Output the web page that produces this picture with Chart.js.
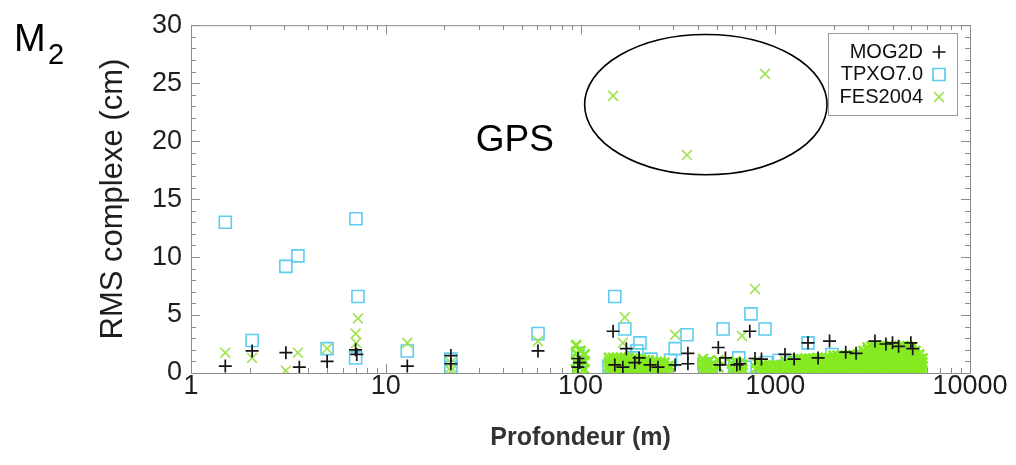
<!DOCTYPE html>
<html><head><meta charset="utf-8">
<script src="https://cdn.jsdelivr.net/npm/chart.js@4.4.1/dist/chart.umd.min.js"></script>
<style>html,body{margin:0;padding:0;background:#fff;}</style>
</head><body>
<canvas id="c" width="1016" height="465"></canvas>
<script>
// ---- data (x = depth in m, y = complex RMS in cm) ----
const seriesNames = ['MOG2D', 'TPXO7.0', 'FES2004'];
const xTickLabels = [1, 10, 100, 1000, 10000];
const yTickLabels = [0, 5, 10, 15, 20, 25, 30];

const mog2dPoints = [
  [1.5,0.6],[2.06,1.9],[3.07,1.75],[3.6,0.5],[5.0,1.0],[7.0,2.0],[7.1,1.6],[12.9,0.6],
  [21.6,0.8],[21.6,1.5],[60.5,1.9],[97,1.25],[97,0.5],[99,0.9],
  [147,3.6],[150,0.7],[165,0.5],[172,2.1],[190,0.9],[200,1.3],[228,0.7],[250,0.5],
  [306,0.7],[356,1.7],[356,0.8],[510,2.2],[520,0.7],[555,1.3],[635,0.7],[659,0.8],
  [740,3.6],[787,1.25],[850,1.2],[1122,1.6],[1250,1.2],[1473,2.6],[1660,1.3],[1900,2.75],
  [2300,1.8],[2600,1.7],[3250,2.75],[3700,2.5],[4000,2.6],[4300,2.3],[4970,2.6],[5080,2.1]
];

const tpxoPoints = [
  [1.5,13.0],[2.06,2.8],[3.07,9.2],[3.54,10.1],[5.0,2.1],[7.03,13.3],[7.2,6.6],[7.0,1.3],
  [12.9,1.9],[21.6,1.2],[21.6,0.5],[60.5,3.4],[97,1.7],[99,1.0],[100,0.4],
  [150,6.6],[169,3.8],[202,2.6],[195,1.9],[306,2.1],[352,3.3],[540,3.8],[750,5.1],[886,3.8],
  [1473,2.6],[1955,1.6],
  [140,0.6],[155,1.0],[170,0.5],[185,1.3],[200,0.7],[230,1.2],[260,0.6],[290,1.1],
  [430,0.8],[470,0.5],[620,0.7],[650,1.3],[700,0.5],
  [850,0.4],[900,0.9],[980,0.5],[1050,1.1],[1130,0.6],[1210,0.9],[1300,0.4],[1400,1.0],
  [1500,0.6],[1650,1.1],[2000,0.5],[2500,0.9],[3000,0.6],[4000,1.2],[5000,0.8]
];

const fesSparsePoints = [
  [1.5,1.75],[2.06,1.3],[3.07,0.2],[3.54,1.75],[5.0,2.1],[7.2,4.7],[7.0,3.4],[7.05,2.6],
  [12.9,2.6],[21.6,0.9],[21.6,0.5],[21.6,0.2],[60.5,2.75],
  [147,23.9],[886,25.8],[352,18.8],[787,7.25],[169,4.8],[306,3.3],[675,3.2],[165,2.6]
];

// dense groups: [depth, [rms values...]]
const fesDenseGroups = [
  [95,[0.3,1.0,1.7,2.4]],[100,[0.5,1.2,1.9]],[105,[0.3,1.0,1.6]],
  [140,[0.25,0.6,0.95,1.3]],[147,[0.25,0.6,0.95,1.3]],[154,[0.25,0.6,0.95,1.3]],[161,[0.25,0.6,0.95,1.3]],
  [169,[0.25,0.6,0.95,1.3]],[177,[0.25,0.6,0.95,1.3]],[186,[0.25,0.6,0.95,1.2]],[195,[0.25,0.6,0.95,1.2]],
  [204,[0.25,0.6,0.95,1.2]],[214,[0.25,0.6,0.95,1.1]],[224,[0.25,0.6,0.95,1.1]],[235,[0.25,0.6,0.95]],
  [246,[0.25,0.6,0.95]],[258,[0.25,0.6,0.95]],[270,[0.25,0.6,0.9]],[283,[0.25,0.6]],
  [425,[0.3,0.8,1.2]],[440,[0.3,0.7]],[455,[0.5,1.0]],[480,[0.3,0.8]],[510,[0.5,1.1]],
  [600,[0.3,0.8]],[625,[0.5,1.0]],[650,[0.3,0.8]],[680,[0.3,0.7]],[800,[0.4,0.9]],
  [850,[0.25,0.65]],[890,[0.25,0.65]],[935,[0.25,0.65]],[980,[0.25,0.65]],[1030,[0.25,0.65]],
  [1080,[0.25,0.65]],[1130,[0.25,0.65,1.0]],[1190,[0.25,0.65]],[1250,[0.25,0.65,1.0]],
  [1300,[0.2,0.55,0.9,1.25]],[1360,[0.2,0.55,0.9,1.2]],[1430,[0.2,0.55,0.9,1.25]],[1500,[0.2,0.55,0.9,1.25]],
  [1570,[0.2,0.55,0.9,1.25]],[1650,[0.2,0.55,0.9,1.3]],[1730,[0.2,0.55,0.9,1.3]],[1810,[0.2,0.55,0.9,1.3]],
  [1900,[0.2,0.55,0.9,1.3]],[1990,[0.2,0.55,0.9,1.25,1.5]],[2090,[0.2,0.55,0.9,1.25,1.5]],
  [2190,[0.2,0.55,0.9,1.25,1.5]],[2300,[0.2,0.55,0.9,1.25,1.5]],[2410,[0.2,0.55,0.9,1.25,1.55]],
  [2520,[0.2,0.55,0.9,1.25,1.55]],[2650,[0.2,0.55,0.9,1.25,1.6]],
  [2840,[0.2,0.55,0.9,1.25,1.6,1.9]],[2980,[0.2,0.55,0.9,1.25,1.6,1.95,2.2]],
  [3120,[0.2,0.55,0.9,1.25,1.6,1.95,2.3]],[3270,[0.2,0.55,0.9,1.25,1.6,1.95,2.3]],
  [3430,[0.2,0.55,0.9,1.25,1.6,1.95,2.3]],[3590,[0.2,0.55,0.9,1.25,1.6,1.95,2.3]],
  [3770,[0.2,0.55,0.9,1.25,1.6,1.95,2.3]],[3950,[0.2,0.55,0.9,1.25,1.6,1.95,2.35]],
  [4140,[0.2,0.55,0.9,1.25,1.6,1.95,2.3]],[4340,[0.2,0.55,0.9,1.25,1.6,1.95,2.3]],
  [4550,[0.2,0.55,0.9,1.25,1.6,1.95,2.35]],[4770,[0.2,0.55,0.9,1.25,1.6,1.95,2.3]],
  [5000,[0.2,0.55,0.9,1.25,1.6,1.95,2.2]],[5240,[0.2,0.55,0.9,1.25,1.6,1.9]],
  [5490,[0.2,0.55,0.9,1.25,1.6]],[5700,[0.2,0.55,0.9,1.25]]
];

// annotation: circled GPS stations (data coordinates)
const gpsLabel = {text: 'GPS', x: 46, y: 20};
const gpsEllipse = {xMin: 105, xMax: 1845, yMin: 17.1, yMax: 29.2};

// ---- build ----
const toXY = arr => arr.map(p => ({x: p[0], y: p[1]}));
const fesAll = toXY(fesSparsePoints).concat(
  fesDenseGroups.flatMap(g => g[1].map(v => ({x: g[0], y: v}))));
const nSparse = fesSparsePoints.length;

const COLORS = {mog: '#141414', tpxo: '#5ccdee', fes: '#a2e456', fesDense: '#86ea22'};
const FONT = 'Liberation Sans, Arial, sans-serif';

function drawMarker(ctx, style, x, y, r, color, lw) {
  ctx.save();
  ctx.strokeStyle = color; ctx.lineWidth = lw;
  ctx.beginPath();
  if (style === 'cross') {
    ctx.moveTo(x - r, y); ctx.lineTo(x + r, y);
    ctx.moveTo(x, y - r); ctx.lineTo(x, y + r);
  } else if (style === 'rect') {
    const s = r * Math.SQRT1_2;
    ctx.rect(x - s, y - s, 2 * s, 2 * s);
  } else {
    const s = r * Math.SQRT1_2;
    ctx.moveTo(x - s, y - s); ctx.lineTo(x + s, y + s);
    ctx.moveTo(x - s, y + s); ctx.lineTo(x + s, y - s);
  }
  ctx.stroke();
  ctx.restore();
}

const deco = {
  id: 'deco',
  beforeDatasetsDraw(chart) {
    const {ctx, chartArea: a, scales: {x, y}} = chart;
    ctx.save();
    ctx.strokeStyle = '#8c8c8c';
    ctx.lineWidth = 1;
    ctx.strokeRect(a.left + 0.5, a.top + 0.5, a.right - a.left, a.bottom - a.top);
    const line = (x1, y1, x2, y2) => { ctx.beginPath(); ctx.moveTo(x1, y1); ctx.lineTo(x2, y2); ctx.stroke(); };
    for (let v = 0; v <= 30; v++) {
      const py = Math.round(y.getPixelForValue(v)) + 0.5;
      const len = v % 5 === 0 ? 9 : 5;
      line(a.left, py, a.left + len, py);
      line(a.right, py, a.right - len, py);
    }
    for (let d = 1; d <= 1000; d *= 10) {
      for (let m = 1; m <= 10; m++) {
        const px = Math.round(x.getPixelForValue(d * m)) + 0.5;
        const len = m === 1 || m === 10 ? 9 : 5;
        line(px, a.bottom, px, a.bottom - len);
        line(px, a.top, px, a.top + len);
      }
    }
    ctx.restore();
  },
  afterDraw(chart) {
    const {ctx, scales: {x, y}} = chart;
    ctx.save();
    // ellipse
    const x1 = x.getPixelForValue(gpsEllipse.xMin), x2 = x.getPixelForValue(gpsEllipse.xMax);
    const y1 = y.getPixelForValue(gpsEllipse.yMax), y2 = y.getPixelForValue(gpsEllipse.yMin);
    ctx.strokeStyle = '#000'; ctx.lineWidth = 1.6;
    ctx.beginPath();
    ctx.ellipse((x1 + x2) / 2, (y1 + y2) / 2, (x2 - x1) / 2, (y2 - y1) / 2, 0, 0, Math.PI * 2);
    ctx.stroke();
    // GPS label
    ctx.fillStyle = '#000';
    ctx.font = '37px ' + FONT;
    ctx.textAlign = 'center'; ctx.textBaseline = 'middle';
    ctx.fillText(gpsLabel.text, x.getPixelForValue(gpsLabel.x), y.getPixelForValue(gpsLabel.y));
    // panel label M2
    ctx.textAlign = 'left'; ctx.textBaseline = 'alphabetic';
    ctx.font = '38px ' + FONT;
    ctx.fillText('M', 14, 51);
    ctx.font = '29px ' + FONT;
    ctx.fillText('2', 48, 64);
    // legend
    const lx1 = 828, ly1 = 33, lx2 = 957, ly2 = 115;
    ctx.fillStyle = '#fff';
    ctx.fillRect(lx1, ly1, lx2 - lx1, ly2 - ly1);
    ctx.strokeStyle = '#9a9a9a'; ctx.lineWidth = 1;
    ctx.strokeRect(lx1 + 0.5, ly1 + 0.5, lx2 - lx1, ly2 - ly1);
    const rows = [
      {name: seriesNames[0], style: 'cross', color: COLORS.mog, r: 6.5},
      {name: seriesNames[1], style: 'rect', color: COLORS.tpxo, r: 8.5},
      {name: seriesNames[2], style: 'crossRot', color: COLORS.fes, r: 7}
    ];
    ctx.font = '20px ' + FONT;
    ctx.textAlign = 'right'; ctx.textBaseline = 'middle';
    rows.forEach((row, i) => {
      const ty = 52 + i * 22.5;
      ctx.fillStyle = '#111';
      ctx.fillText(row.name, 923, ty);
      drawMarker(ctx, row.style, 939, ty, row.r, row.color, 1.7);
    });
    ctx.restore();
  }
};

new Chart(document.getElementById('c'), {
  type: 'scatter',
  data: {
    datasets: [
      {label: seriesNames[0], data: toXY(mog2dPoints), pointStyle: 'cross', pointRadius: 6.5,
       pointBorderColor: COLORS.mog, pointBackgroundColor: 'rgba(0,0,0,0)', pointBorderWidth: 1.7},
      {label: seriesNames[2], data: fesAll, pointStyle: 'crossRot', pointRadius: 7,
       pointBorderColor: c => c.dataIndex < nSparse ? COLORS.fes : COLORS.fesDense,
       pointBackgroundColor: 'rgba(0,0,0,0)',
       pointBorderWidth: c => c.dataIndex < nSparse ? 1.7 : 2.6},
      {label: seriesNames[1], data: toXY(tpxoPoints), pointStyle: 'rect', pointRadius: 8.5,
       pointBorderColor: COLORS.tpxo, pointBackgroundColor: 'rgba(0,0,0,0)', pointBorderWidth: 1.6}
    ]
  },
  options: {
    responsive: false,
    animation: false,
    devicePixelRatio: 1,
    layout: {padding: {left: 0, right: 46, top: 13, bottom: 0}},
    plugins: {legend: {display: false}, tooltip: {enabled: false}},
    scales: {
      x: {
        type: 'logarithmic', min: 1, max: 10000,
        grid: {display: false, drawTicks: false},
        border: {display: false},
        afterFit: s => { s.height = 92; },
        ticks: {
          autoSkip: false, maxRotation: 0, padding: -3,
          color: '#1e1e1e', font: {family: FONT, size: 27},
          callback: v => xTickLabels.includes(v) ? String(v) : ''
        },
        title: {display: true, text: 'Profondeur (m)', color: '#333',
                font: {family: FONT, size: 25, weight: 'bold'}, padding: {top: 0, bottom: 12}}
      },
      y: {
        min: 0, max: 30,
        grid: {display: false, drawTicks: false},
        border: {display: false},
        afterFit: s => { s.width = 191; },
        ticks: {
          stepSize: 5, padding: 9,
          color: '#1e1e1e', font: {family: FONT, size: 27},
          callback: v => yTickLabels.includes(v) ? String(v) : ''
        },
        title: {display: true, text: 'RMS complexe (cm)', color: '#1e1e1e',
                font: {family: FONT, size: 31}, padding: {top: 95, bottom: 0}}
      }
    }
  },
  plugins: [deco]
});
</script>
</body></html>
